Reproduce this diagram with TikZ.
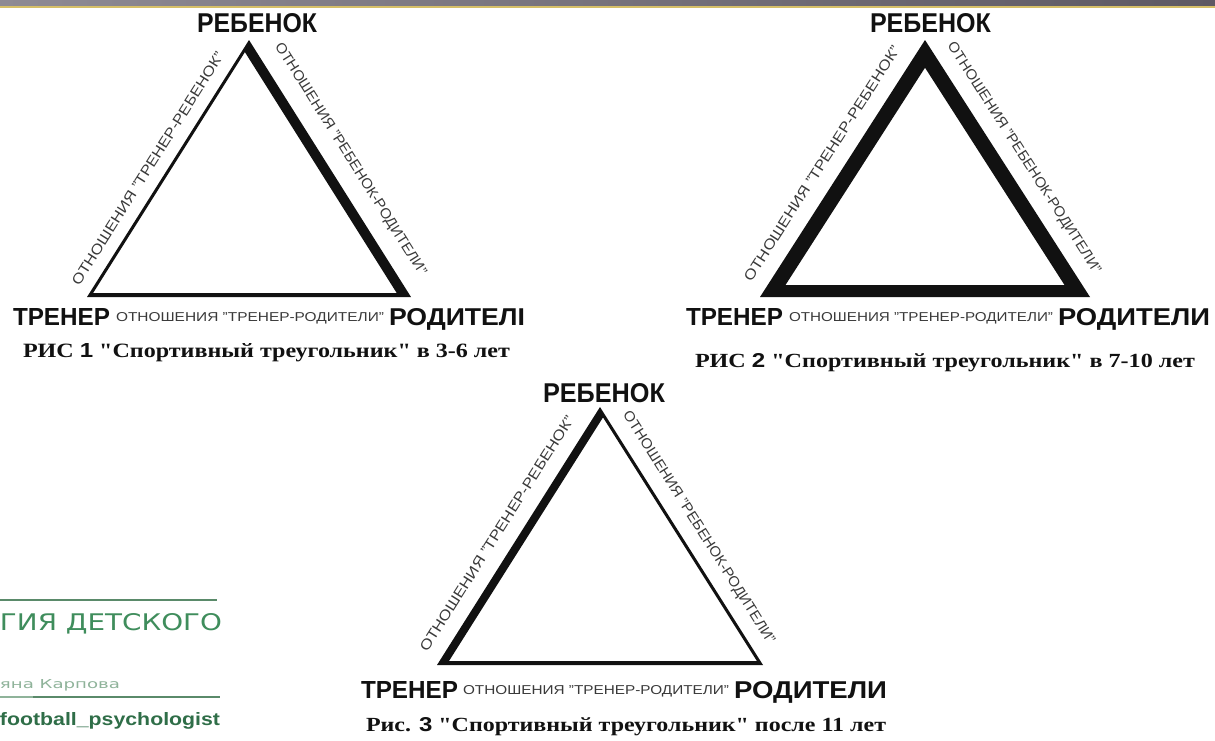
\documentclass[tikz,border=0pt]{standalone}
\usepackage{fontspec}
\usepackage{graphicx}
\setmainfont{Liberation Sans}
\newfontfamily\capfont{Liberation Serif}
\newfontfamily\logofont{DejaVu Sans}
\newcommand\fitbox[3]{\resizebox{#1pt}{#2pt}{#3}}
\definecolor{barL}{HTML}{8E8A94}
\definecolor{barM}{HTML}{A29DA6}
\definecolor{barR}{HTML}{5E5963}
\definecolor{barY}{HTML}{D6BF68}
\definecolor{ink}{HTML}{111111}
\definecolor{elabc}{HTML}{3A3A3A}
\definecolor{logoG}{HTML}{3F8D5C}
\definecolor{logoL}{HTML}{8FB39A}
\definecolor{logoD}{HTML}{2F6E48}
\definecolor{logoLine}{HTML}{5A8A6A}
\tikzset{
  txt/.style={anchor=base west, inner sep=0pt, outer sep=0pt, text=ink},
  elab/.style={sloped, inner sep=0pt, outer sep=0pt, text=elabc},
  tri/.style={fill=ink, even odd rule},
}
\begin{document}
\begin{tikzpicture}[x=1pt,y=-1pt]
\useasboundingbox (0,0) rectangle (1215,740);
\fill[white] (0,0) rectangle (1215,740);
% top bar
\shade[left color=barL, middle color=barM, right color=barR] (0,0) rectangle (1215,6);
\fill[barY] (0,6) rectangle (1215,8);

% ---------- Figure 1 ----------
\coordinate (A1) at (249,40);
\coordinate (L1) at (87,297);
\coordinate (R1) at (411,297);
\coordinate (IA1) at (244.9,52.1);
\coordinate (IL1) at (93.1,293);
\coordinate (IR1) at (396.7,293);
\fill[tri] (A1) -- (L1) -- (R1) -- cycle (IA1) -- (IL1) -- (IR1) -- cycle;
\path (L1) -- node[elab, pos=0.464, above=12pt] (e1l) {\fitbox{272}{10}{ОТНОШЕНИЯ "ТРЕНЕР-РЕБЕНОК"}} (A1);
\path (A1) -- node[elab, pos=0.51, above=15.5pt] (e1r) {\fitbox{272}{10}{ОТНОШЕНИЯ "РЕБЕНОК-РОДИТЕЛИ"}} (R1);
\node[txt] (c1) at (197,32) {\fitbox{120}{19}{\bfseries РЕБЕНОК}};
\node[txt] (t1) at (13,325) {\fitbox{97}{17}{\bfseries ТРЕНЕР}};
\node[txt, text=elabc] (b1) at (116,321) {\fitbox{268}{9}{ОТНОШЕНИЯ "ТРЕНЕР-РОДИТЕЛИ"}};
\node[txt] (p1) at (389,325) {\fitbox{136}{17}{\bfseries РОДИТЕЛІ}};
\node[txt] (cap1) at (23,357) {\fitbox{487}{14}{\capfont\bfseries РИС {\rmfamily\bfseries 1} "Спортивный треугольник" в 3-6 лет}};

% ---------- Figure 2 ----------
\coordinate (A2) at (925,40);
\coordinate (L2) at (760,297);
\coordinate (R2) at (1090,297);
\coordinate (IA2) at (925,67.7);
\coordinate (IL2) at (785.5,285);
\coordinate (IR2) at (1064.5,285);
\fill[tri] (A2) -- (L2) -- (R2) -- cycle (IA2) -- (IL2) -- (IR2) -- cycle;
\path (L2) -- node[elab, pos=0.477, above=15pt] (e2l) {\fitbox{276}{10}{ОТНОШЕНИЯ "ТРЕНЕР-РЕБЕНОК"}} (A2);
\path (A2) -- node[elab, pos=0.5, above=12.7pt] (e2r) {\fitbox{272}{10}{ОТНОШЕНИЯ "РЕБЕНОК-РОДИТЕЛИ"}} (R2);
\node[txt] (c2) at (870,32) {\fitbox{121}{19}{\bfseries РЕБЕНОК}};
\node[txt] (t2) at (686,325) {\fitbox{97}{17}{\bfseries ТРЕНЕР}};
\node[txt, text=elabc] (b2) at (789,321) {\fitbox{264}{9}{ОТНОШЕНИЯ "ТРЕНЕР-РОДИТЕЛИ"}};
\node[txt] (p2) at (1058,325) {\fitbox{152}{17}{\bfseries РОДИТЕЛИ}};
\node[txt] (cap2) at (695,367) {\fitbox{500}{14}{\capfont\bfseries РИС {\rmfamily\bfseries 2} "Спортивный треугольник" в 7-10 лет}};

% ---------- Figure 3 ----------
\coordinate (A3) at (600,407);
\coordinate (L3) at (437,665);
\coordinate (R3) at (763,665);
\coordinate (IA3) at (603,417.4);
\coordinate (IL3) at (449,661);
\coordinate (IR3) at (756.9,661);
\fill[tri] (A3) -- (L3) -- (R3) -- cycle (IA3) -- (IL3) -- (IR3) -- cycle;
\path (L3) -- node[elab, pos=0.469, above=14.6pt] (e3l) {\fitbox{276}{10}{ОТНОШЕНИЯ "ТРЕНЕР-РЕБЕНОК"}} (A3);
\path (A3) -- node[elab, pos=0.507, above=12.2pt] (e3r) {\fitbox{272}{10}{ОТНОШЕНИЯ "РЕБЕНОК-РОДИТЕЛИ"}} (R3);
\node[txt] (c3) at (543,402) {\fitbox{122}{19}{\bfseries РЕБЕНОК}};
\node[txt] (t3) at (361,698) {\fitbox{97}{17}{\bfseries ТРЕНЕР}};
\node[txt, text=elabc] (b3) at (463,694) {\fitbox{266}{9}{ОТНОШЕНИЯ "ТРЕНЕР-РОДИТЕЛИ"}};
\node[txt] (p3) at (734,698) {\fitbox{153}{17}{\bfseries РОДИТЕЛИ}};
\node[txt] (cap3) at (366,731) {\fitbox{520}{14}{\capfont\bfseries Рис. {\rmfamily\bfseries 3} "Спортивный треугольник" после 11 лет}};

% ---------- logo fragment ----------
\draw[logoLine, line width=1.5pt] (0,600) -- (217,600);
\node[txt, text=logoG] (lg1) at (0,630) {\fitbox{222}{17}{\logofont ГИЯ ДЕТСКОГО}};
\node[txt, text=logoL] (lg2) at (0,688) {\fitbox{120}{9}{\logofont яна Карпова}};
\draw[logoL, line width=2pt] (0,697) -- (33,697);
\draw[logoLine, line width=2.5pt] (33,697) -- (220,697);
\node[txt, text=logoD] (lg3) at (0,725) {\fitbox{220}{13}{\bfseries football\_psychologist}};
\end{tikzpicture}
\end{document}
